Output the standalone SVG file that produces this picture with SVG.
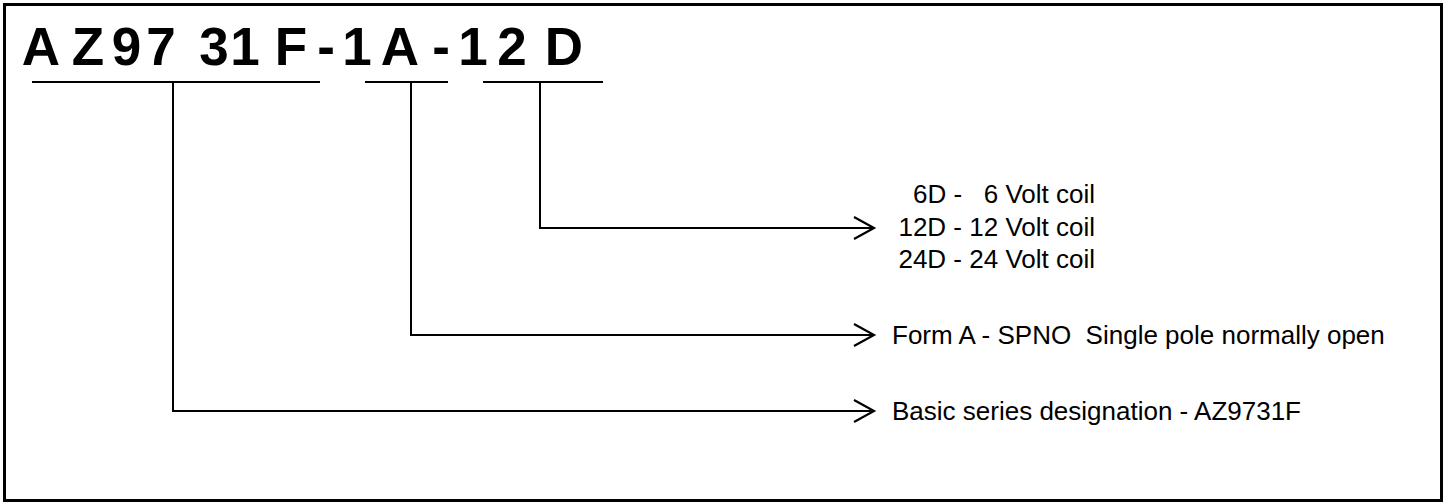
<svg xmlns="http://www.w3.org/2000/svg" width="1445" height="502" viewBox="0 0 1445 502">
<style>
.frame{fill:#fff;stroke:#000;stroke-width:3}
.ln{fill:none;stroke:#000;stroke-width:2}
.ttl{font-family:"Liberation Sans",Arial,sans-serif;font-weight:bold;font-size:53px;fill:#000;text-anchor:middle}
.lbl{font-family:"Liberation Sans",Arial,sans-serif;font-size:26px;fill:#000;white-space:pre}
.rt{text-anchor:end}
</style>
<defs>
<marker id="arr" markerUnits="userSpaceOnUse" markerWidth="26" markerHeight="28" refX="22" refY="13" orient="auto" viewBox="0 0 26 26">
<path d="M2,2 L22,13 L2,24" fill="none" stroke="#000" stroke-width="2.2"/>
</marker>
</defs>
<rect class="frame" x="4.5" y="4.5" width="1437" height="496"/>
<g id="title">
<text class="ttl" y="65"><tspan x="41">A</tspan><tspan x="88">Z</tspan><tspan x="126.5">9</tspan><tspan x="161">7</tspan><tspan x="214">3</tspan><tspan x="245">1</tspan><tspan x="291">F</tspan><tspan x="326">-</tspan><tspan x="357">1</tspan><tspan x="400">A</tspan><tspan x="441">-</tspan><tspan x="473">1</tspan><tspan x="512">2</tspan><tspan x="564">D</tspan></text>
</g>
<g id="underlines">
<line class="ln" x1="32" y1="82" x2="320" y2="82"/>
<line class="ln" x1="365" y1="82" x2="448" y2="82"/>
<line class="ln" x1="483" y1="82" x2="603" y2="82"/>
</g>
<g id="connectors">
<polyline class="ln" points="540,82 540,228 874,228" marker-end="url(#arr)"/>
<polyline class="ln" points="411,82 411,335 874,335" marker-end="url(#arr)"/>
<polyline class="ln" points="173,82 173,411 874,411" marker-end="url(#arr)"/>
</g>
<g id="coil">
<text class="lbl rt" x="1095" y="203">6D -   6 Volt coil</text>
<text class="lbl rt" x="1095" y="236">12D - 12 Volt coil</text>
<text class="lbl rt" x="1095" y="268">24D - 24 Volt coil</text>
</g>
<g id="form">
<text class="lbl" x="892" y="344">Form A - SPNO  Single pole normally open</text>
</g>
<g id="series">
<text class="lbl" x="892" y="420">Basic series designation - AZ9731F</text>
</g>
</svg>
